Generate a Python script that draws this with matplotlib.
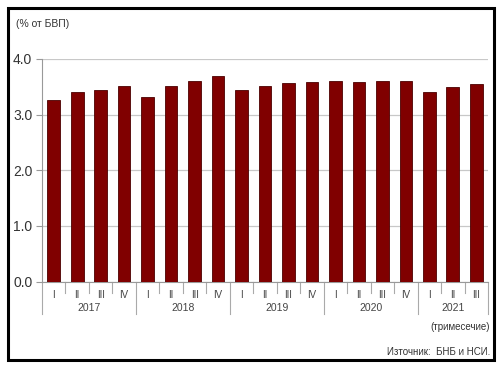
import matplotlib.pyplot as plt
import numpy as np
from matplotlib.patches import Rectangle

plt.rcParams['font.family'] = ['Liberation Sans', 'DejaVu Sans']

years = ['2017', '2018', '2019', '2020', '2021']
quarters = ['I', 'II', 'III', 'IV']
n_q = [4, 4, 4, 4, 3]
values = [3.26, 3.40, 3.45, 3.52,
          3.32, 3.52, 3.61, 3.69,
          3.44, 3.52, 3.56, 3.58,
          3.60, 3.58, 3.61, 3.61,
          3.41, 3.50, 3.55]
q_labels = []
for n in n_q:
    q_labels += quarters[:n]

fig = plt.figure(figsize=(5.04, 3.66), dpi=100)
ax = fig.add_axes([42 / 504, 1 - 281.5 / 366, 446 / 504, 222.5 / 366])

x = np.arange(len(values))
ax.bar(x, values, width=0.54, color='#800000', edgecolor='#4a0000', linewidth=0.6, zorder=3)

ax.set_xlim(-0.5, len(values) - 0.5)
ax.set_ylim(0, 4)
ax.set_yticks([0, 1, 2, 3, 4])
ax.set_yticklabels(['0.0', '1.0', '2.0', '3.0', '4.0'], fontsize=10, color='#333333')
ax.yaxis.grid(True, color='#c8c8c8', linewidth=0.9, zorder=0)
ax.tick_params(axis='y', length=4, color='#999999', pad=3)
for s in ['top', 'right']:
    ax.spines[s].set_visible(False)
ax.spines['left'].set_color('#999999')
ax.spines['bottom'].set_color('#999999')

ax.set_xticks(x)
ax.set_xticklabels(q_labels, fontsize=7, color='#444444')
ax.tick_params(axis='x', length=0, pad=6)

# separators under the category axis
tr = ax.get_xaxis_transform()
start = 0
bounds = [-0.5]
for n in n_q:
    for k in range(1, n):
        ax.plot([start + k - 0.5] * 2, [0, -0.05], color='#aaaaaa', lw=0.8, transform=tr, clip_on=False)
    start += n
    bounds.append(start - 0.5)
for b in bounds:
    ax.plot([b, b], [0, -0.145], color='#aaaaaa', lw=0.8, transform=tr, clip_on=False)

start = 0
for yr, n in zip(years, n_q):
    ax.text(start + (n - 1) / 2, -0.12, yr, transform=tr, ha='center', va='center',
            fontsize=7.5, color='#444444')
    start += n

fig.text(16 / 504, 1 - 24 / 366, '(% от БВП)', fontsize=7.5, color='#333333', va='center')
fig.text(490 / 504, 1 - 327 / 366, '(тримесечие)', fontsize=7, color='#333333', ha='right', va='center')
fig.text(490 / 504, 1 - 352 / 366, 'Източник:  БНБ и НСИ.', fontsize=7, color='#333333', ha='right', va='center')

fig.patches.append(Rectangle((8 / 504, 6 / 366), 486 / 504, 352 / 366, transform=fig.transFigure,
                             fill=False, edgecolor='black', linewidth=2.2))

fig.savefig('out.png', dpi=100)
